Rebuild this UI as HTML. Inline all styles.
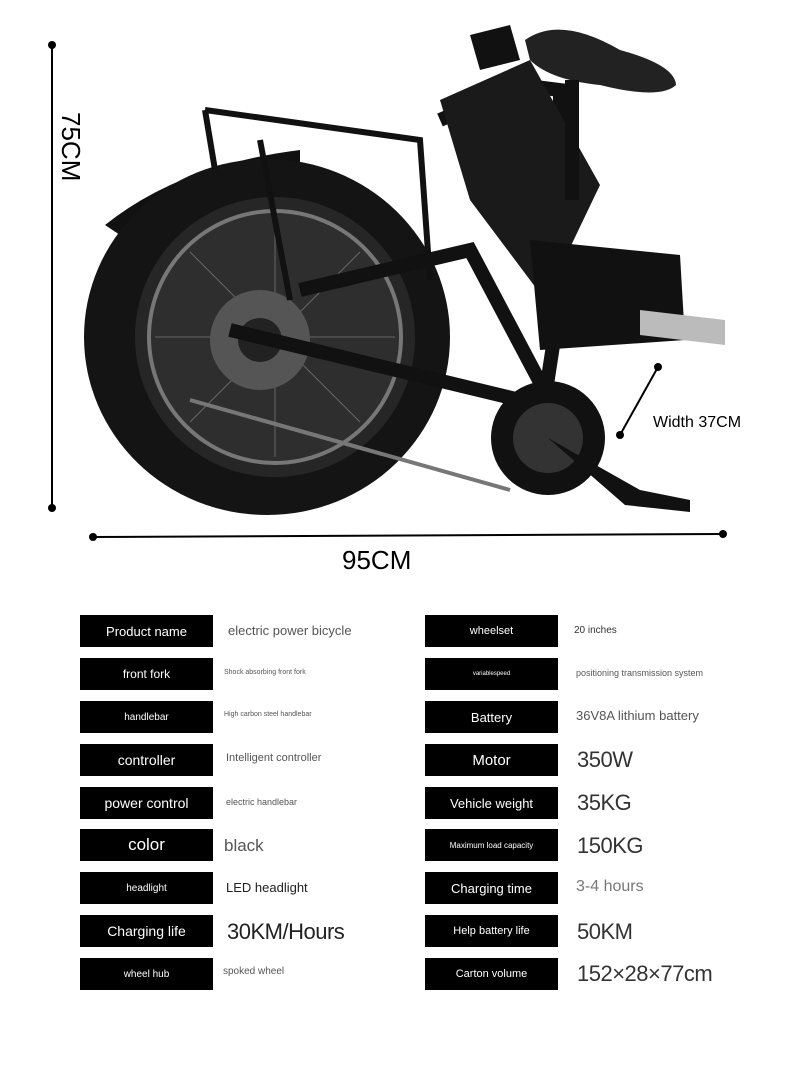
<!DOCTYPE html>
<html><head><meta charset="utf-8"><style>
body{margin:0;background:#fff;width:800px;height:1068px;position:relative;overflow:hidden;font-family:"Liberation Sans",sans-serif}
.k{position:absolute;width:133px;height:32px;background:#000;color:#fff;display:flex;align-items:center;justify-content:center;font-size:12px}
.v{position:absolute;color:#555;white-space:nowrap}
.n{letter-spacing:-0.5px;font-weight:300}
</style></head><body>
<svg width="800" height="600" style="position:absolute;left:0;top:0">
<line x1="52" y1="45" x2="52" y2="508" stroke="#000" stroke-width="2"/>
<circle cx="52" cy="45" r="4"/><circle cx="52" cy="508" r="4"/>
<line x1="93" y1="537" x2="723" y2="534" stroke="#000" stroke-width="2"/>
<circle cx="93" cy="537" r="4"/><circle cx="723" cy="534" r="4"/>
<line x1="658" y1="367" x2="620" y2="435" stroke="#000" stroke-width="2"/>
<circle cx="658" cy="367" r="4"/><circle cx="620" cy="435" r="4"/>
<text x="0" y="0" transform="translate(62,112) rotate(90)" font-size="26" font-family="Liberation Sans">75CM</text>
<text x="342" y="569" font-size="26" font-family="Liberation Sans">95CM</text>
<text x="653" y="427" font-size="16" font-family="Liberation Sans">Width 37CM</text>
<path d="M105,225 Q180,165 300,150 L300,170 Q200,180 120,235 Z" fill="#111"/>
<ellipse cx="267" cy="337" rx="183" ry="178" fill="#141414"/>
<ellipse cx="275" cy="337" rx="140" ry="140" fill="#262626"/>
<ellipse cx="275" cy="337" rx="128" ry="128" fill="#777"/>
<ellipse cx="275" cy="337" rx="124" ry="124" fill="#2e2e2e"/>
<g stroke="#666" stroke-width="1">
<line x1="155" y1="337" x2="395" y2="337"/><line x1="275" y1="217" x2="275" y2="457"/>
<line x1="190" y1="252" x2="360" y2="422"/><line x1="360" y1="252" x2="190" y2="422"/>
</g>
<ellipse cx="260" cy="340" rx="50" ry="50" fill="#555"/>
<ellipse cx="260" cy="340" rx="22" ry="22" fill="#222"/>
<path d="M205,110 L420,140 L430,280 M205,110 L215,170 M260,140 L290,300" stroke="#111" stroke-width="6" fill="none"/>
<path d="M230,330 L520,400 L545,440 M300,290 L470,250 L560,420 M440,120 L520,85 L560,90 L560,300 L540,430" stroke="#111" stroke-width="14" fill="none"/>
<path d="M440,100 L530,60 L600,185 L545,300 L470,200 Z" fill="#1a1a1a"/>
<path d="M530,240 L680,255 L685,340 L540,350 Z" fill="#111"/>
<path d="M640,310 L725,320 L725,345 L640,335 Z" fill="#bbb"/>
<path d="M470,35 L510,25 L520,60 L480,70 Z" fill="#111"/>
<path d="M525,40 Q560,15 620,50 Q675,65 676,85 Q660,100 600,85 Q550,80 530,60 Z" fill="#222"/>
<rect x="565" y="80" width="14" height="120" fill="#111"/>
<circle cx="548" cy="438" r="57" fill="#111"/>
<circle cx="548" cy="438" r="35" fill="#333"/>
<path d="M548,438 L640,490 L690,500 L690,512 L625,505 Z" fill="#111"/>
<line x1="190" y1="400" x2="510" y2="490" stroke="#777" stroke-width="4"/>
</svg>

<div class="k" style="left:80px;top:615px;font-size:13px">Product name</div><div class="v" style="left:228px;top:623px;font-size:13px">electric power bicycle</div>
<div class="k" style="left:80px;top:658px">front fork</div><div class="v" style="left:224px;top:669px;font-size:7px">Shock absorbing front fork</div>
<div class="k" style="left:80px;top:701px;font-size:10px">handlebar</div><div class="v" style="left:224px;top:711px;font-size:7px">High carbon steel handlebar</div>
<div class="k" style="left:80px;top:744px;font-size:14px">controller</div><div class="v" style="left:226px;top:752px;font-size:11px">Intelligent controller</div>
<div class="k" style="left:80px;top:787px;font-size:14px">power control</div><div class="v" style="left:226px;top:797px;font-size:9px">electric handlebar</div>
<div class="k" style="left:80px;top:829px;font-size:17px">color</div><div class="v" style="left:224px;top:836px;font-size:17px">black</div>
<div class="k" style="left:80px;top:872px;font-size:10px">headlight</div><div class="v" style="left:226px;top:880px;font-size:13px;color:#222">LED headlight</div>
<div class="k" style="left:80px;top:915px;font-size:14px">Charging life</div><div class="v n" style="left:227px;top:919px;font-size:22px;color:#222">30KM/Hours</div>
<div class="k" style="left:80px;top:958px;font-size:10px">wheel hub</div><div class="v" style="left:223px;top:966px;font-size:10px">spoked wheel</div>

<div class="k" style="left:425px;top:615px;font-size:11px">wheelset</div><div class="v" style="left:574px;top:625px;font-size:10px;color:#333">20 inches</div>
<div class="k" style="left:425px;top:658px;font-size:6px">variablespeed</div><div class="v" style="left:576px;top:668px;font-size:9px">positioning transmission system</div>
<div class="k" style="left:425px;top:701px;font-size:13px">Battery</div><div class="v" style="left:576px;top:708px;font-size:13px">36V8A lithium battery</div>
<div class="k" style="left:425px;top:744px;font-size:15px">Motor</div><div class="v n" style="left:577px;top:747px;font-size:22px;color:#333">350W</div>
<div class="k" style="left:425px;top:787px;font-size:13px">Vehicle weight</div><div class="v n" style="left:577px;top:790px;font-size:22px;color:#333">35KG</div>
<div class="k" style="left:425px;top:829px;font-size:8px">Maximum load capacity</div><div class="v n" style="left:577px;top:833px;font-size:22px;color:#333">150KG</div>
<div class="k" style="left:425px;top:872px;font-size:13px">Charging time</div><div class="v" style="left:576px;top:878px;font-size:16px;color:#777">3-4 hours</div>
<div class="k" style="left:425px;top:915px;font-size:11px">Help battery life</div><div class="v n" style="left:577px;top:919px;font-size:22px;color:#333">50KM</div>
<div class="k" style="left:425px;top:958px;font-size:11px">Carton volume</div><div class="v n" style="left:577px;top:961px;font-size:22px;color:#333">152×28×77cm</div>
</body></html>
